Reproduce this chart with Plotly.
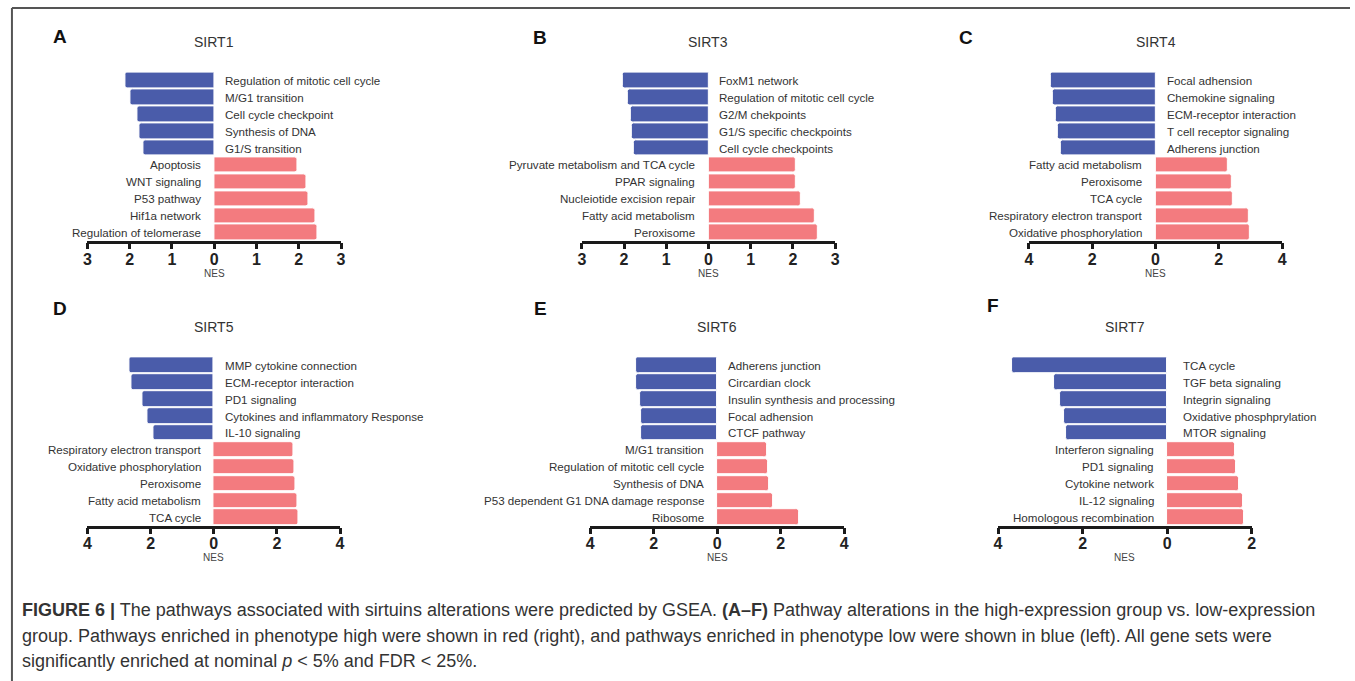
import plotly.graph_objects as go

# ---------------- data ----------------
panel_letters = ["A", "B", "C", "D", "E", "F"]
panel_titles = ["SIRT1", "SIRT3", "SIRT4", "SIRT5", "SIRT6", "SIRT7"]

sirt1_low_labels = ["Regulation of mitotic cell cycle", "M/G1 transition", "Cell cycle checkpoint",
                    "Synthesis of DNA", "G1/S transition"]
sirt1_low_nes = [-2.11, -1.98, -1.82, -1.78, -1.68]
sirt1_high_labels = ["Apoptosis", "WNT signaling", "P53 pathway", "Hif1a network", "Regulation of telomerase"]
sirt1_high_nes = [1.97, 2.17, 2.24, 2.39, 2.44]

sirt3_low_labels = ["FoxM1 network", "Regulation of mitotic cell cycle", "G2/M chekpoints",
                    "G1/S specific checkpoints", "Cell cycle checkpoints"]
sirt3_low_nes = [-2.02, -1.90, -1.84, -1.81, -1.77]
sirt3_high_labels = ["Pyruvate metabolism and TCA cycle", "PPAR signaling", "Nucleiotide excision repair",
                     "Fatty acid metabolism", "Peroxisome"]
sirt3_high_nes = [2.08, 2.08, 2.18, 2.53, 2.58]

sirt4_low_labels = ["Focal adhension", "Chemokine signaling", "ECM-receptor interaction",
                    "T cell receptor signaling", "Adherens junction"]
sirt4_low_nes = [-3.29, -3.25, -3.15, -3.08, -2.99]
sirt4_high_labels = ["Fatty acid metabolism", "Peroxisome", "TCA cycle", "Respiratory electron transport",
                     "Oxidative phosphorylation"]
sirt4_high_nes = [2.30, 2.41, 2.44, 2.95, 2.98]

sirt5_low_labels = ["MMP cytokine connection", "ECM-receptor interaction", "PD1 signaling",
                    "Cytokines and inflammatory Response", "IL-10 signaling"]
sirt5_low_nes = [-2.68, -2.62, -2.27, -2.11, -1.92]
sirt5_high_labels = ["Respiratory electron transport", "Oxidative phosphorylation", "Peroxisome",
                     "Fatty acid metabolism", "TCA cycle"]
sirt5_high_nes = [2.53, 2.54, 2.59, 2.64, 2.69]

sirt6_low_labels = ["Adherens junction", "Circardian clock", "Insulin synthesis and processing",
                    "Focal adhension", "CTCF pathway"]
sirt6_low_nes = [-2.54, -2.54, -2.41, -2.40, -2.40]
sirt6_high_labels = ["M/G1 transition", "Regulation of mitotic cell cycle", "Synthesis of DNA",
                     "P53 dependent G1 DNA damage response", "Ribosome"]
sirt6_high_nes = [1.59, 1.62, 1.64, 1.76, 2.57]

sirt7_low_labels = ["TCA cycle", "TGF beta signaling", "Integrin signaling", "Oxidative phosphprylation",
                    "MTOR signaling"]
sirt7_low_nes = [-3.66, -2.68, -2.54, -2.44, -2.40]
sirt7_high_labels = ["Interferon signaling", "PD1 signaling", "Cytokine network", "IL-12 signaling",
                     "Homologous recombination"]
sirt7_high_nes = [1.61, 1.64, 1.71, 1.80, 1.82]

x_ranges = [[-3, 3], [-3, 3], [-4, 4], [-4, 4], [-4, 4], [-4, 2]]
x_tickvals = [[-3, -2, -1, 0, 1, 2, 3], [-3, -2, -1, 0, 1, 2, 3], [-4, -2, 0, 2, 4],
              [-4, -2, 0, 2, 4], [-4, -2, 0, 2, 4], [-4, -2, 0, 2]]
x_ticktext = [["3", "2", "1", "0", "1", "2", "3"], ["3", "2", "1", "0", "1", "2", "3"],
              ["4", "2", "0", "2", "4"], ["4", "2", "0", "2", "4"], ["4", "2", "0", "2", "4"],
              ["4", "2", "0", "2"]]

caption_lines = [
    "<b>FIGURE 6 |</b> The pathways associated with sirtuins alterations were predicted by GSEA. "
    "<b>(A–F)</b> Pathway alterations in the high-expression group vs. low-expression",
    "group. Pathways enriched in phenotype high were shown in red (right), and pathways enriched in "
    "phenotype low were shown in blue (left). All gene sets were",
    "significantly enriched at nominal <i>p</i> &lt; 5% and FDR &lt; 25%.",
]

# ---------------- layout helpers ----------------
W, H = 1355, 681
BLUE = "#4a5caa"
RED = "#f37b7f"
FONT = "Liberation Sans, Arial, sans-serif"


def px(v):
    return v / W


def py(v):
    return 1 - v / H


# pixel geometry of each panel: (x_left, x_right, axis_y, top_y)
geom = [
    (84.0, 339.3, 240.7, 72.4),
    (581.7, 836.7, 240.7, 72.4),
    (1031.7, 1286.7, 240.7, 72.4),
    (84.0, 338.3, 525.5, 357.2),
    (590.0, 845.7, 525.5, 357.2),
    (1000.7, 1256.0, 525.5, 357.2),
]
letter_pos = [(56.7, 37), (540, 38), (968, 38), (56.7, 308), (540, 308), (996, 306)]
title_y = [42, 42, 42, 327, 327, 327]
nes_y = [273, 273, 273, 557, 557, 557]
blue_shift = [9, 9, 10, 9, 9, 14]
LABEL_SIZE = 11.6

data = [
    (sirt1_low_labels, sirt1_low_nes, sirt1_high_labels, sirt1_high_nes),
    (sirt3_low_labels, sirt3_low_nes, sirt3_high_labels, sirt3_high_nes),
    (sirt4_low_labels, sirt4_low_nes, sirt4_high_labels, sirt4_high_nes),
    (sirt5_low_labels, sirt5_low_nes, sirt5_high_labels, sirt5_high_nes),
    (sirt6_low_labels, sirt6_low_nes, sirt6_high_labels, sirt6_high_nes),
    (sirt7_low_labels, sirt7_low_nes, sirt7_high_labels, sirt7_high_nes),
]

fig = go.Figure()
annotations = []
layout = {}

for i, (low_l, low_v, high_l, high_v) in enumerate(data):
    n = i + 1
    xa = "x" if n == 1 else f"x{n}"
    ya = "y" if n == 1 else f"y{n}"
    xl, xr, ay, ty = geom[i]
    cats = list(reversed(high_l)) + list(reversed(low_l))  # bottom -> top

    fig.add_trace(go.Bar(y=low_l, x=low_v, orientation="h", marker=dict(color=BLUE, line=dict(color="white", width=1)),
                         width=0.92, xaxis=xa, yaxis=ya, showlegend=False, hoverinfo="x+y"))
    fig.add_trace(go.Bar(y=high_l, x=high_v, orientation="h", marker=dict(color=RED, line=dict(color="white", width=1)),
                         width=0.92, xaxis=xa, yaxis=ya, showlegend=False, hoverinfo="x+y"))

    layout["xaxis" if n == 1 else f"xaxis{n}"] = dict(
        domain=[px(xl), px(xr)], anchor=ya, range=x_ranges[i],
        tickvals=x_tickvals[i], ticktext=x_ticktext[i],
        showline=True, linecolor="#1a1a1a", linewidth=2.5,
        ticks="outside", ticklen=6, tickwidth=2.5, tickcolor="#1a1a1a",
        ticklabelstandoff=-4,
        showgrid=False, zeroline=False,
        tickfont=dict(family=FONT, size=16, color="#222", weight="bold"),
        fixedrange=True,
    )
    layout["yaxis" if n == 1 else f"yaxis{n}"] = dict(
        domain=[py(ay), py(ty)], anchor=xa, type="category", categoryorder="array",
        categoryarray=cats, range=[-0.48, 9.48], showticklabels=False,
        showline=False, showgrid=False, zeroline=False, ticks="", fixedrange=True,
    )

    for lab in low_l:
        annotations.append(dict(x=0, y=lab, xref=xa, yref=ya, text=lab, showarrow=False,
                                xanchor="left", xshift=blue_shift[i],
                                font=dict(family=FONT, size=LABEL_SIZE, color="#333")))
    for lab in high_l:
        annotations.append(dict(x=0, y=lab, xref=xa, yref=ya, text=lab, showarrow=False,
                                xanchor="right", xshift=-11,
                                font=dict(family=FONT, size=LABEL_SIZE, color="#333")))

    cx = (xl + xr) / 2
    annotations.append(dict(x=px(cx), y=py(title_y[i]), xref="paper", yref="paper", text=panel_titles[i],
                            showarrow=False, xanchor="center", yanchor="middle",
                            font=dict(family=FONT, size=14, color="#333")))
    annotations.append(dict(x=px(cx), y=py(nes_y[i]), xref="paper", yref="paper", text="NES",
                            showarrow=False, xanchor="center", yanchor="middle",
                            font=dict(family=FONT, size=10, color="#444")))
    lx, ly = letter_pos[i]
    annotations.append(dict(x=px(lx), y=py(ly), xref="paper", yref="paper", text=f"<b>{panel_letters[i]}</b>",
                            showarrow=False, xanchor="center", yanchor="middle",
                            font=dict(family=FONT, size=19, color="#111")))

for k, (line, yy) in enumerate(zip(caption_lines, [610, 636, 661])):
    annotations.append(dict(x=px(16), y=py(yy), xref="paper", yref="paper", text=line, showarrow=False,
                            xanchor="left", yanchor="middle", align="left",
                            font=dict(family=FONT, size=18, color="#333")))

shapes = [
    dict(type="line", xref="paper", yref="paper", x0=px(8), x1=1, y0=py(8), y1=py(8),
         line=dict(color="#555", width=2)),
    dict(type="line", xref="paper", yref="paper", x0=px(8), x1=px(8), y0=py(8), y1=0,
         line=dict(color="#555", width=2)),
]

fig.update_layout(
    width=W, height=H, margin=dict(l=0, r=0, t=0, b=0),
    paper_bgcolor="white", plot_bgcolor="white",
    barmode="overlay", barcornerradius=3, bargap=0,
    annotations=annotations, shapes=shapes,
    **layout,
)

fig.write_html("out.html", config={"displayModeBar": False},
               post_script="document.body.style.margin='0';document.body.style.overflow='hidden';")
